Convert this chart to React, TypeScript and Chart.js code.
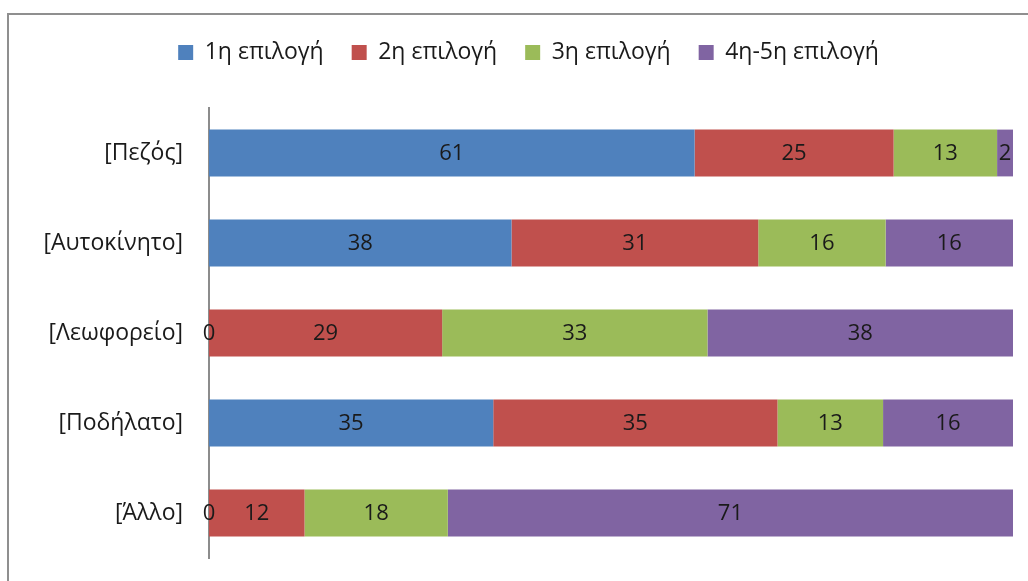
import React, { useEffect, useRef } from "react";
import { Chart, registerables } from "chart.js";

Chart.register(...registerables);

const categories = ["[Πεζός]", "[Αυτοκίνητο]", "[Λεωφορείο]", "[Ποδήλατο]", "[Άλλο]"];
const seriesNames = ["1η επιλογή", "2η επιλογή", "3η επιλογή", "4η-5η επιλογή"];
const firstChoice = [61, 38, 0, 35, 0];
const secondChoice = [25, 31, 29, 35, 12];
const thirdChoice = [13, 16, 33, 13, 18];
const fourthFifthChoice = [2, 16, 38, 16, 71];
const seriesColors = ["#4F81BD", "#C0504D", "#9BBB59", "#8064A2"];

const FONT = '"Open Sans", "Noto Sans", sans-serif';
const LABEL_SIZE = 22;
const TICK_SIZE = 23;
const LEGEND_SIZE = 23;
const TEXT_COLOR = "#1a1a1a";

export default function App() {
  const canvasRef = useRef<HTMLCanvasElement | null>(null);

  useEffect(() => {
    const canvas = canvasRef.current;
    if (!canvas) return;
    const allSeries = [firstChoice, secondChoice, thirdChoice, fourthFifthChoice];
    const totals = categories.map((_, i) => allSeries.reduce((s, arr) => s + arr[i], 0));

    const datasets = allSeries.map((vals, si) => ({
      label: seriesNames[si],
      data: vals.map((v, i) => (v / totals[i]) * 100),
      rawValues: vals,
      backgroundColor: seriesColors[si],
      borderWidth: 0,
      barPercentage: 0.52,
      categoryPercentage: 1,
    }));

    const labelPlugin = {
      id: "barLabels",
      beforeLayout(chart: any) {
        const lg = chart.legend;
        if (lg && !lg._patchedFit) {
          const orig = lg.fit.bind(lg);
          lg.fit = function () {
            orig();
            this.height += 34;
          };
          lg._patchedFit = true;
        }
      },
      afterDatasetsDraw(chart: any) {
        const ctx = chart.ctx;
        ctx.save();
        ctx.font = `${LABEL_SIZE}px ${FONT}`;
        ctx.fillStyle = TEXT_COLOR;
        ctx.textAlign = "center";
        ctx.textBaseline = "middle";
        chart.data.datasets.forEach((ds: any, di: number) => {
          const meta = chart.getDatasetMeta(di);
          meta.data.forEach((el: any, i: number) => {
            const p = el.getProps(["x", "y", "base"], true);
            ctx.fillText(String(ds.rawValues[i]), (p.x + p.base) / 2, p.y + 1);
          });
        });
        ctx.restore();
      },
    };

    const chart = new Chart(canvas, {
      type: "bar",
      data: { labels: categories, datasets: datasets as any },
      options: {
        indexAxis: "y",
        animation: false,
        responsive: false,
        maintainAspectRatio: false,
        layout: { padding: { top: 13, left: 44, right: 15, bottom: 23 } },
        plugins: {
          legend: {
            position: "top",
            align: "center",
            labels: {
              font: { family: FONT, size: LEGEND_SIZE },
              color: TEXT_COLOR,
              boxWidth: 15,
              boxHeight: 15,
              padding: 28,
            },
          },
          tooltip: { enabled: false },
        },
        scales: {
          x: {
            stacked: true,
            min: 0,
            max: 100,
            display: false,
          },
          y: {
            stacked: true,
            grid: { display: false },
            border: { display: true, color: "#8c8c8c", width: 2 },
            ticks: {
              font: { family: FONT, size: TICK_SIZE },
              color: TEXT_COLOR,
              padding: 18,
            },
            afterFit(scale: any) {
              scale.width = 165;
              scale.paddingTop = 0;
              scale.paddingBottom = 0;
            },
          },
        },
      },
      plugins: [labelPlugin],
    });
    return () => chart.destroy();
  }, []);

  return (
    <div
      style={{
        position: "fixed",
        left: 0,
        top: 0,
        width: 1028,
        height: 581,
        overflow: "hidden",
        background: "#ffffff",
      }}
    >
      <div
        style={{
          position: "absolute",
          left: 7,
          top: 13,
          width: 1100,
          height: 700,
          border: "2px solid #8f8f8f",
        }}
      />
      <canvas
        ref={canvasRef}
        width={1028}
        height={581}
        style={{ position: "absolute", left: 0, top: 0, width: 1028, height: 581 }}
      />
    </div>
  );
}
